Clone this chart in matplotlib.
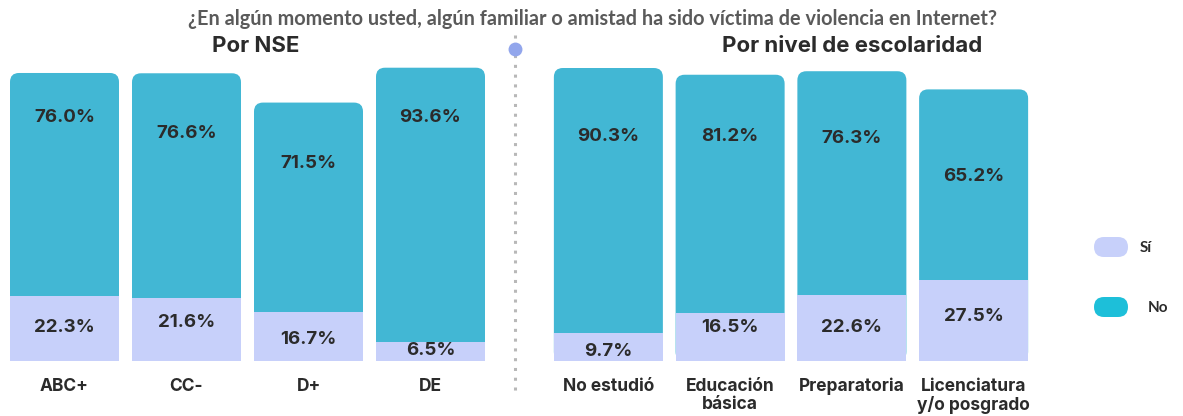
import matplotlib
matplotlib.use("Agg")
import matplotlib.pyplot as plt
from matplotlib.patches import FancyBboxPatch
from matplotlib.lines import Line2D

title = "¿En algún momento usted, algún familiar o amistad ha sido víctima de violencia en Internet?"
nse_title = "Por NSE"
esc_title = "Por nivel de escolaridad"

nse_cats = ["ABC+", "CC-", "D+", "DE"]
nse_si = [22.3, 21.6, 16.7, 6.5]
nse_no = [76.0, 76.6, 71.5, 93.6]

esc_cats = ["No estudió", "Educación\nbásica", "Preparatoria", "Licenciatura\ny/o posgrado"]
esc_si = [9.7, 16.5, 22.6, 27.5]
esc_no = [90.3, 81.2, 76.3, 65.2]

legend_labels = ["Sí", "No"]

# style
C_NO = "#42B7D4"
C_SI = "#C7D0FA"
C_NO_LEG = "#1DBFD9"
TXT = "#2b2b2b"
FONT = "Inter"

W, H = 1183, 416
fig = plt.figure(figsize=(W / 100, H / 100), dpi=100)

# pixel-based layout
bottom_px = 361
ylim_top = 105
px_per_unit = 2.93
ax_h_px = ylim_top * px_per_unit

no_lab_frac_nse = [0.80, 0.73, 0.71, 0.82]
si_lab_frac_nse = [0.52, 0.61, 0.44, 0.54]
no_lab_frac_esc = [0.74, 0.74, 0.70, 0.545]
si_lab_frac_esc = [0.32, 0.70, 0.50, 0.55]


def make_ax(left_px, right_px):
    return fig.add_axes([left_px / W, (H - bottom_px) / H,
                         (right_px - left_px) / W, ax_h_px / H])


def draw_panel(ax, cats, si, no, no_frac, si_frac, spacing_px):
    n = len(cats)
    x = list(range(n))
    width = 109 / spacing_px
    ax.set_xlim(-0.5, n - 0.5)
    ax.set_ylim(0, ylim_top)
    aspect = spacing_px / px_per_unit
    r = 9 / spacing_px
    no_bars = ax.bar(x, no, bottom=si, width=width, color=C_NO)
    for rect in no_bars:
        rect.set_visible(False)
        x0 = rect.get_x()
        top = rect.get_y() + rect.get_height()
        p = FancyBboxPatch((x0, 0), rect.get_width(), top,
                           boxstyle=f"round,pad=0,rounding_size={r}",
                           mutation_aspect=aspect, facecolor=C_NO,
                           edgecolor="none", zorder=2)
        ax.add_patch(p)
    ax.bar(x, si, width=width, color=C_SI, zorder=3)
    for i in range(n):
        ax.text(x[i], si[i] + no[i] * no_frac[i], f"{no[i]:.1f}%",
                ha="center", va="center", fontsize=13.5, fontweight="bold",
                color=TXT, family=FONT, zorder=4)
        ax.text(x[i], si[i] * si_frac[i], f"{si[i]:.1f}%",
                ha="center", va="center", fontsize=13.5, fontweight="bold",
                color=TXT, family=FONT, zorder=4)
    ax.set_xticks(x)
    ax.set_xticklabels(cats, fontsize=12.5, fontweight="bold", color=TXT,
                       family=FONT, linespacing=1.1, va="top")
    ax.tick_params(axis="x", length=0, pad=12)
    ax.set_yticks([])
    for s in ax.spines.values():
        s.set_visible(False)
    ax.patch.set_alpha(0)


ax1 = make_ax(3.5, 491.5)
draw_panel(ax1, nse_cats, nse_si, nse_no, no_lab_frac_nse, si_lab_frac_nse, 122)
ax2 = make_ax(547.5, 1034.5)
draw_panel(ax2, esc_cats, esc_si, esc_no, no_lab_frac_esc, si_lab_frac_esc, 121.75)

# titles
fig.text(592 / W, 1 - 19 / H, title, ha="center", va="center", fontsize=14.3,
         fontweight="bold", color="#5a5a5a", family="Lato")
fig.text(256 / W, 1 - 46 / H, nse_title, ha="center", va="center", fontsize=16,
         fontweight="bold", color=TXT, family=FONT)
fig.text(852 / W, 1 - 46 / H, esc_title, ha="center", va="center", fontsize=16,
         fontweight="bold", color=TXT, family=FONT)

# divider
fig.add_artist(Line2D([515 / W, 515 / W], [1 - 35 / H, 1 - 396 / H],
                      linestyle=(0, (1, 2.2)), linewidth=2.2, color="#b8b8b8"))
fig.add_artist(Line2D([515 / W], [1 - 49 / H], marker="o", markersize=10,
                      markerfacecolor="#92A6EC", markeredgecolor="none"))

# legend
for lab, col, y, tx in [(legend_labels[0], C_SI, 247, 1140), (legend_labels[1], C_NO_LEG, 307, 1148)]:
    p = FancyBboxPatch((1094 / W, 1 - (y + 10) / H), 34 / W, 20 / H,
                       boxstyle=f"round,pad=0,rounding_size={10 / W}",
                       mutation_aspect=W / H, transform=fig.transFigure,
                       facecolor=col, edgecolor="none")
    fig.add_artist(p)
    fig.text(tx / W, 1 - (y + 1) / H, lab, ha="left", va="center", fontsize=11,
             fontweight="bold", color=TXT, family="Lato")

fig.savefig("out.png", dpi=100, facecolor="white")
